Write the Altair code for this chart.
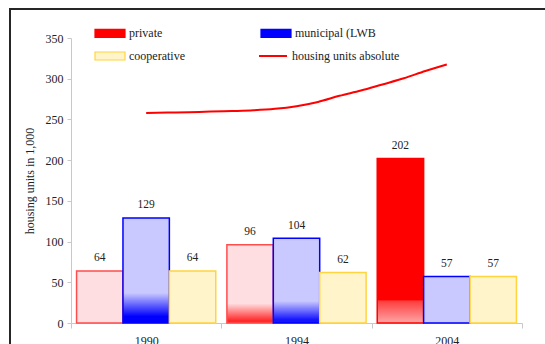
import altair as alt
import pandas as pd

# Completions by owner group, thousands of housing units
years = ["1990", "1994", "2004"]
series = ["private", "municipal (LWB", "cooperative"]
private = [64, 96, 202]
municipal = [129, 104, 57]
cooperative = [64, 62, 57]

# Total housing stock per year, thousands
stock_years = list(range(1990, 2005))
stock_total = [258.0, 258.4, 258.9, 259.6, 260.3, 261.2, 263.0, 266.3,
               271.5, 279.0, 285.5, 293.0, 300.5, 309.5, 317.5]

bars = pd.DataFrame({
    "year": years * 3,
    "series": [s for s in series for _ in years],
    "units": private + municipal + cooperative,
})
stock = pd.DataFrame({"year": stock_years, "units": stock_total})
stock["name"] = "housing units absolute"

SERIF = "Liberation Serif"
INK = "#222222"
PINK, RED = "#FFDEE1", "#FF0000"
LAV, BLUE = "#C9C9FF", "#0000FF"
CREAM, GOLD = "#FFF4CA", "#FFD43F"

base_fill = {"private": PINK, "municipal (LWB": LAV, "cooperative": CREAM}
edge = {"private": "#FF4C4C", "municipal (LWB": BLUE, "cooperative": GOLD}

# colour stops near the foot of some bars: (colour, level in thousands), top to bottom
shading = {
    ("1990", "municipal (LWB"): [(LAV, 37), (BLUE, 8)],
    ("1994", "private"): [(PINK, 24), ("#FF2A2A", 3)],
    ("1994", "municipal (LWB"): [(LAV, 27), ("#1414FF", 4)],
    ("2004", "private"): [(RED, 28), ("#FF3C3C", 27.4), ("#FFA6A6", 0)],
}


def bar_fill(year, s, value):
    spec = shading.get((year, s))
    if not spec:
        return base_fill[s]
    stops = [alt.GradientStop(color=spec[0][0], offset=0)]
    for color, level in spec:
        stops.append(alt.GradientStop(color=color, offset=round(1 - level / value, 4)))
    stops.append(alt.GradientStop(color=spec[-1][0], offset=1))
    return alt.Gradient(gradient="linear", stops=stops, x1=0, x2=0, y1=0, y2=1)


x_enc = alt.X(
    "year:N",
    scale=alt.Scale(domain=years, paddingInner=0, paddingOuter=0),
    axis=alt.Axis(title=None, labelAngle=0, tickBand="extent", tickSize=5,
                  labelPadding=7, domainColor="#C8C8C8", tickColor="#C8C8C8"),
)
xoff_enc = alt.XOffset(
    "series:N", scale=alt.Scale(domain=series, paddingInner=0, paddingOuter=0.12)
)
y_enc = alt.Y(
    "units:Q",
    scale=alt.Scale(domain=[0, 350], nice=False),
    axis=alt.Axis(values=list(range(0, 351, 50)), grid=False,
                  title="housing units in 1,000", titlePadding=9, tickSize=4,
                  labelPadding=4, domainColor="#C8C8C8", tickColor="#C8C8C8"),
)

base = alt.Chart(bars).encode(x=x_enc, xOffset=xoff_enc, y=y_enc)

bar_layers = []
for s in series:
    for yr in years:
        value = bars.loc[(bars.year == yr) & (bars.series == s), "units"].iloc[0]
        spec = shading.get((yr, s))
        stroke = RED if spec and spec[0][0] == RED else edge[s]
        bar_layers.append(
            base.transform_filter((alt.datum.year == yr) & (alt.datum.series == s))
            .mark_bar(fill=bar_fill(yr, s, value), stroke=stroke, strokeWidth=1.5)
        )

labels = base.mark_text(dy=-9.5, baseline="alphabetic", font=SERIF,
                        fontSize=11.5, color=INK).encode(text="units:Q")

bar_block = alt.layer(*bar_layers, labels)

RECT_SYMBOL = "M-3,-0.8H3V0.8H-3Z"
LINE_SYMBOL = "M-2.8,0H2.8"

# the key fills column by column: private / cooperative, then municipal
key_order = ["private", "cooperative", "municipal (LWB"]
key_fill = [RED, CREAM, BLUE]
key_edge = [RED, GOLD, BLUE]

legend_bars = alt.Legend(
    title=None, orient="none", legendX=33, legendY=-11, columns=2,
    columnPadding=73, rowPadding=9, symbolType=RECT_SYMBOL, symbolSize=100,
    symbolStrokeWidth=1.2, labelOffset=13, labelFont=SERIF, labelFontSize=12,
    labelColor=INK, padding=0,
)
legend_key = (
    alt.Chart(bars).transform_filter("false").mark_bar()
    .encode(
        fill=alt.Fill("series:N", scale=alt.Scale(domain=key_order, range=key_fill),
                      legend=legend_bars),
        stroke=alt.Stroke("series:N", scale=alt.Scale(domain=key_order, range=key_edge),
                          legend=legend_bars),
    )
)

total_line = (
    alt.Chart(stock)
    .mark_line(strokeWidth=2, interpolate="monotone")
    .encode(
        x=alt.X("year:Q", scale=alt.Scale(domain=[1986.5, 2007.5], nice=False, zero=False),
                axis=None),
        y=alt.Y("units:Q"),
        color=alt.Color(
            "name:N", scale=alt.Scale(range=[RED]),
            legend=alt.Legend(title=None, orient="none", legendX=196, legendY=12,
                              symbolType=LINE_SYMBOL, symbolSize=100, symbolStrokeWidth=2,
                              labelOffset=13, labelFont=SERIF, labelFontSize=12,
                              labelColor=INK, padding=0),
        ),
    )
)

frame = (
    alt.Chart(pd.DataFrame({"k": [0]}))
    .mark_rect(fill="transparent", stroke="#262626", strokeWidth=2)
    .encode(x=alt.value(-61), x2=alt.value(700), y=alt.value(-29), y2=alt.value(500))
)

chart = (
    alt.layer(frame, bar_block, total_line, legend_key)
    .resolve_scale(x="independent")
    .properties(
        width=451, height=285,
        autosize=alt.AutoSizeParams(type="none"),
        padding={"left": 71, "top": 38, "right": 23, "bottom": 21},
        background="white",
    )
    .configure(font=SERIF)
    .configure_axis(labelFont=SERIF, labelFontSize=12, labelColor=INK,
                    titleFont=SERIF, titleFontSize=12, titleFontWeight="normal",
                    titleColor=INK)
    .configure_legend(labelFont=SERIF)
    .configure_view(stroke=None)
)

chart.save("out.html", embed_options={"renderer": "svg", "actions": False})
